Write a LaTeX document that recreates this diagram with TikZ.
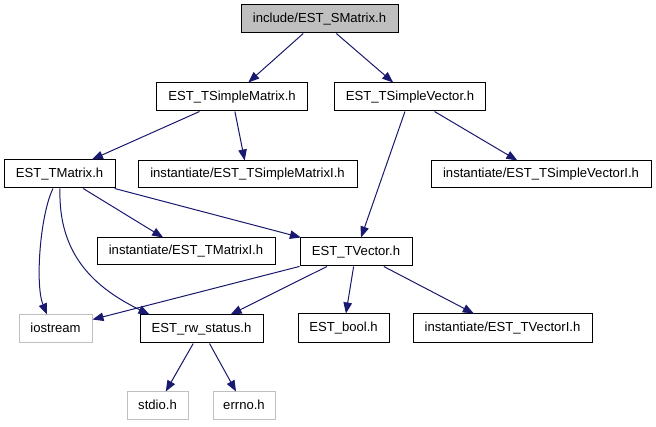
\documentclass[tikz,border=0pt]{standalone}
\usepackage{fontspec}
\setmainfont{Liberation Sans}
\usetikzlibrary{arrows.meta}
\definecolor{edgeblue}{HTML}{191970}
\definecolor{lightgrayb}{HTML}{BFBFBF}
\definecolor{topfill}{HTML}{BFBFBF}
\tikzset{
  filebox/.style={draw=black, line width=1pt, rectangle, inner sep=0pt,
    minimum height=28pt, font=\fontsize{13.1}{15}\selectfont,
    text height=9.4pt, text depth=2.8pt},
  extbox/.style={filebox, draw=lightgrayb},
  dep/.style={draw=edgeblue, line width=1pt, -{Triangle[length=11pt,width=8.5pt]}}
}
\begin{document}
\begin{tikzpicture}[x=1pt,y=-1pt]
\useasboundingbox (0,0) rectangle (656,427);
\fill[white] (0,0) rectangle (656,427);
\node[filebox, fill=topfill, minimum width=157pt] (top) at (319.5,19) {include/EST\_SMatrix.h};
\node[filebox, minimum width=151pt] (tsm) at (232,97) {EST\_TSimpleMatrix.h};
\node[filebox, minimum width=151pt] (tsv) at (410,97) {EST\_TSimpleVector.h};
\node[filebox, minimum width=111pt] (tm) at (59.5,174) {EST\_TMatrix.h};
\node[filebox, minimum width=219pt, minimum height=27pt] (tsmi) at (247.5,174.5) {instantiate/EST\_TSimpleMatrixI.h};
\node[filebox, minimum width=220pt, minimum height=27pt] (tsvi) at (541,174.5) {instantiate/EST\_TSimpleVectorI.h};
\node[filebox, minimum width=178pt, minimum height=27pt] (tmi) at (186,251.5) {instantiate/EST\_TMatrixI.h};
\node[filebox, minimum width=112pt] (tv) at (356,252) {EST\_TVector.h};
\node[extbox, minimum width=73pt] (ios) at (55.5,329) {iostream};
\node[filebox, minimum width=123pt] (rw) at (201.5,329) {EST\_rw\_status.h};
\node[filebox, minimum width=91pt, minimum height=29pt] (bool) at (343.5,328.5) {EST\_bool.h};
\node[filebox, minimum width=179pt, minimum height=29pt] (tvi) at (502.5,328.5) {instantiate/EST\_TVectorI.h};
\node[extbox, minimum width=61pt] (stdio) at (157.5,406) {stdio.h};
\node[extbox, minimum width=62pt] (errno) at (244,406) {errno.h};

\draw[dep] (top) -- (tsm);
\draw[dep] (top) -- (tsv);
\draw[dep] (tsm) -- (tm);
\draw[dep] (tsm) -- (tsmi);
\draw[dep] (tsv) -- (tv);
\draw[dep] (tsv) -- (tsvi);
\draw[dep] (tm) -- (tmi);
\draw[dep] (tm) -- (tv);
\draw[dep] ([xshift=-6.5pt]tm.south) .. controls (40,215) and (35,285) .. ([xshift=-8.5pt]ios.north);
\draw[dep] ([xshift=0.5pt]tm.south) .. controls (58,255) and (95,288) .. ([xshift=10pt]rw.north west);
\draw[dep] (tv) -- (ios);
\draw[dep] (tv) -- (rw);
\draw[dep] (tv) -- (bool);
\draw[dep] (tv) -- (tvi);
\draw[dep] (rw) -- (stdio);
\draw[dep] (rw) -- (errno);
\end{tikzpicture}
\end{document}
